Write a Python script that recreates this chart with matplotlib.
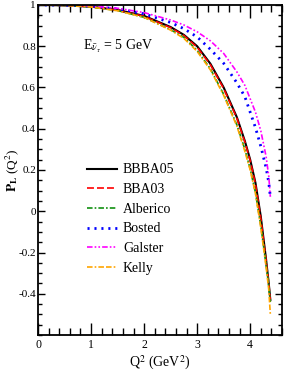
import matplotlib
matplotlib.use('Agg')
import matplotlib.pyplot as plt
from matplotlib.ticker import MultipleLocator, FixedLocator, FixedFormatter

plt.rcParams['font.family'] = ['Liberation Serif', 'DejaVu Serif']
plt.rcParams['mathtext.fontset'] = 'stix'
plt.rcParams['lines.scale_dashes'] = False

# Q^2 (GeV^2) sample points
q2 = [0, 0.5, 1.0, 1.5, 2.0, 2.5, 2.75, 3.0, 3.25, 3.5, 3.75, 3.9, 4.0, 4.1, 4.2, 4.3, 4.35, 4.38]

bbba05 = [1.0, 0.998, 0.992, 0.976, 0.947, 0.893, 0.855, 0.80, 0.715, 0.60, 0.455, 0.34, 0.25, 0.137, -0.026, -0.235, -0.35, -0.43]
bba03 = [1.0, 0.998, 0.991, 0.975, 0.945, 0.890, 0.852, 0.795, 0.710, 0.595, 0.450, 0.335, 0.245, 0.130, -0.035, -0.240, -0.35, -0.43]
alberico = [1.0, 0.998, 0.990, 0.973, 0.940, 0.880, 0.843, 0.780, 0.690, 0.567, 0.418, 0.300, 0.205, 0.090, -0.070, -0.260, -0.36, -0.44]
bosted = [1.0, 0.999, 0.994, 0.981, 0.957, 0.915, 0.885, 0.845, 0.785, 0.717, 0.622, 0.555, 0.480, 0.405, 0.315, 0.210, 0.140, 0.07]
galster = [1.0, 0.999, 0.995, 0.984, 0.963, 0.927, 0.903, 0.870, 0.826, 0.765, 0.675, 0.610, 0.545, 0.480, 0.390, 0.265, 0.170, 0.07]
kelly = [1.0, 0.998, 0.990, 0.972, 0.940, 0.878, 0.838, 0.775, 0.685, 0.562, 0.412, 0.290, 0.200, 0.085, -0.080, -0.270, -0.38, -0.50]

ytick_vals = [-0.4, -0.2, 0, 0.2, 0.4, 0.6, 0.8, 1]
ytick_text = ['-0.4', '-0.2', '0', '0.2', '0.4', '0.6', '0.8', '1']

fig = plt.figure(figsize=(2.84, 3.82), dpi=100)
ax = fig.add_axes([0.134, 0.123, 0.859, 0.864])

ax.plot(q2, bbba05, color='black', lw=1.5, label='BBBA05')
ax.plot(q2, bba03, color='red', lw=1.2, dashes=(5, 2.2), label='BBA03')
ax.plot(q2, alberico, color='#109010', lw=1.2, dashes=(4, 1.5, 1.2, 1.5), label='Alberico')
ax.plot(q2, bosted, color='blue', lw=2.0, dashes=(1.5, 3.5), label='Bosted')
ax.plot(q2, galster, color='magenta', lw=1.2, dashes=(4, 1.5, 1.2, 1.5, 1.2, 1.5), label='Galster')
ax.plot(q2, kelly, color='orange', lw=1.2, dashes=(4, 1.5, 1.2, 1.5, 4, 1.5), label='Kelly')

ax.set_xlim(0, 4.6)
ax.set_ylim(-0.6, 1.0)
ax.xaxis.set_major_locator(MultipleLocator(1))
ax.xaxis.set_minor_locator(MultipleLocator(0.2))
ax.yaxis.set_major_locator(FixedLocator(ytick_vals))
ax.yaxis.set_major_formatter(FixedFormatter(ytick_text))
ax.yaxis.set_minor_locator(MultipleLocator(0.05))

ax.tick_params(axis='both', which='both', direction='in', top=True, right=True, width=1.0)
ax.tick_params(axis='x', which='major', length=9, pad=3, labelsize=8.5)
ax.tick_params(axis='x', which='minor', length=5)
ax.tick_params(axis='y', which='major', length=5, pad=1.5, labelsize=8)
ax.tick_params(axis='y', which='minor', length=3)
for s in ax.spines.values():
    s.set_linewidth(1.3)

ax.set_xlabel(r'Q$^2$ (GeV$^2$)', fontsize=10, labelpad=2)
ax.set_ylabel(r'$\mathbf{P_L}$ (Q$^2$)', fontsize=9.5)
ax.yaxis.set_label_coords(-0.07, 0.5)

ax.text(0.185, 0.875, r'E$_{\bar{\nu}_{\tau}}$ = 5 GeV', transform=ax.transAxes,
        fontsize=10, va='center', ha='left')

ax.legend(loc='upper left', bbox_to_anchor=(0.2, 0.52), frameon=False, fontsize=10,
          borderpad=0, borderaxespad=0, handlelength=2.2, handletextpad=0.4,
          labelspacing=0.48)

fig.savefig('out.png', dpi=100)
